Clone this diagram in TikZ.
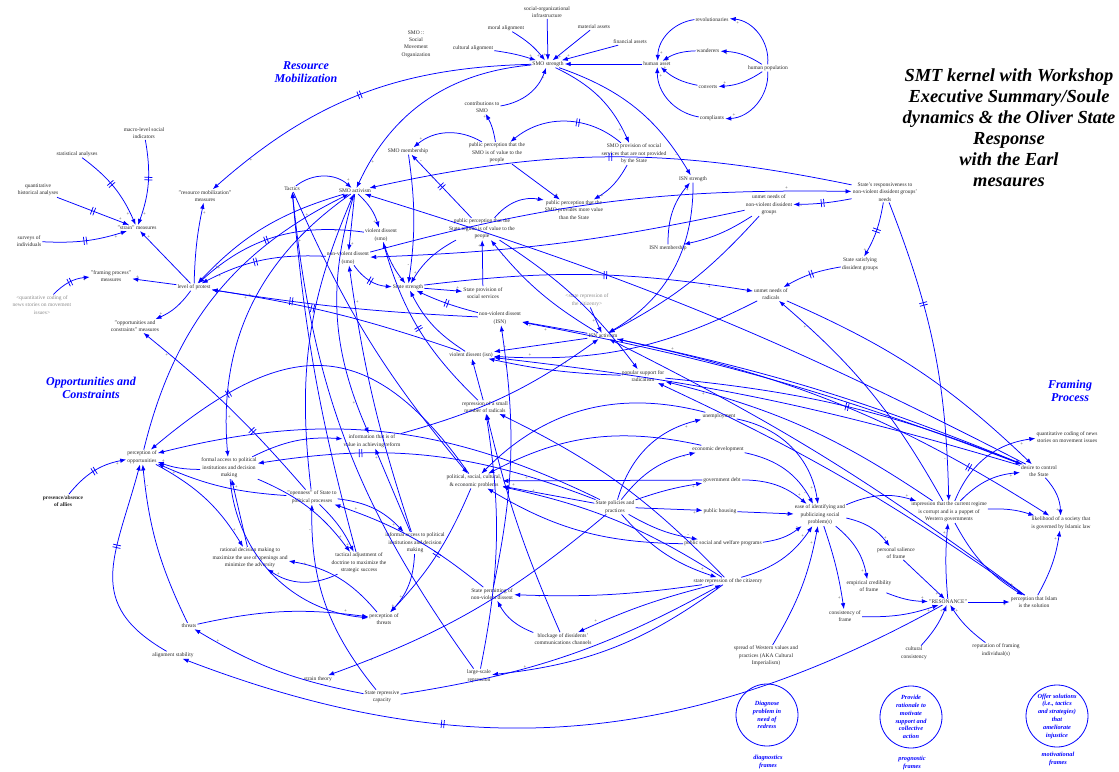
\documentclass[tikz,border=0pt]{standalone}
\usepackage{fontspec}
\setmainfont{Liberation Serif}
\usetikzlibrary{arrows.meta,decorations.markings}

\tikzset{
  var/.style={align=center, inner sep=1pt, text=black!85, font=\fontsize{5.5}{7.4}\selectfont},
  shadow/.style={var, text=black!45},
  title/.style={align=center, font=\fontsize{18.4}{21}\selectfont\bfseries\itshape},
  sector/.style={align=center, text=blue, font=\fontsize{12}{13}\selectfont\bfseries\itshape},
  bubble/.style={circle, draw=blue, line width=0.8pt, minimum size=62pt, inner sep=0pt},
  bubtext/.style={align=center, text=blue, font=\fontsize{6.3}{7.8}\selectfont\bfseries\itshape},
  link/.style={draw=blue, line width=0.75pt, -{Latex[length=6pt,width=4.5pt]}},
  sgn/.style={pos=.88, inner sep=1pt, text=black!70, font=\fontsize{5}{5}\selectfont},
  delay/.style={postaction={decorate, decoration={markings, mark=at position #1 with
    {\draw[-,line width=0.75pt] (-1.3pt,-4pt)--(-1.3pt,4pt) (1.3pt,-4pt)--(1.3pt,4pt);}}}},
  delay/.default=0.5
}

\begin{document}
\begin{tikzpicture}[x=1pt, y=1pt]
\useasboundingbox (0,0) rectangle (1119,-771);

% labels
\node[title] (head) at (1009,-128) {SMT kernel with Workshop\\Executive Summary/Soule\\dynamics \& the Oliver State\\Response\\with the Earl\\mesaures};
\node[sector] (resmob) at (306,-72) {Resource\\Mobilization};
\node[sector] (opplabel) at (91,-388) {Opportunities and\\Constraints};
\node[sector] (framelabel) at (1070,-391) {Framing\\Process};

% resource mobilization
\node[var] (socinfra) at (547,-12) {social-organizational\\infrastructure};
\node[var] (moral) at (506,-28) {moral alignment};
\node[var] (material) at (594,-27) {material assets};
\node[var] (financial) at (630,-42) {financial assets};
\node[var] (cultural) at (473,-48) {cultural alignment};
\node[var] (smodef) at (416,-44) {SMO ::\\Social\\Movement\\Organization};
\node[var] (smostr) at (548,-64) {SMO strength};
\node[var] (humanasset) at (657,-64) {human asset};
\node[var] (revol) at (712,-20) {revolutionaries};
\node[var] (wander) at (708,-51) {wanderers};
\node[var] (convert) at (708,-87) {converts};
\node[var] (compliant) at (712,-118) {compliants};
\node[var] (humanpop) at (768,-68) {human population};
\node[var] (contrib) at (482,-107) {contributions to\\SMO};
\node[var] (smomem) at (408,-151) {SMO membership};
\node[var] (ppsmo) at (497,-153) {public perception that the\\SMO is of value to the\\people};
\node[var] (smoprov) at (634,-154) {SMO provision of social\\services that are not provided\\by the State};
\node[var] (ppmore) at (574,-210) {public perception that the\\SMO provides more value\\than the State};
\node[var] (isnstr) at (693,-179) {ISN strength};
\node[var] (unmetnv) at (769,-205) {unmet needs of\\non-violent dissident\\groups};
\node[var] (isnmem) at (668,-248) {ISN membership};
\node[var] (stateresp) at (885,-192) {State's responsiveness to\\non-violent dissident groups'\\needs};
\node[var] (statesat) at (860,-264) {State satisfying\\dissident groups};

% measures
\node[var] (macro) at (144,-133) {macro-level social\\indicators};
\node[var] (statan) at (77,-154) {statistical analyses};
\node[var] (quanthist) at (38,-190) {quantitative\\historical analyses};
\node[var] (surveys) at (29,-241) {surveys of\\individuals};
\node[var] (strain) at (137,-228) {"strain" measures};
\node[var] (rmmeas) at (205,-196) {"resource mobilization"\\measures};
\node[var] (framemeas) at (111,-276) {"framing process"\\measures};
\node[shadow] (quantcode) at (42,-305) {<quantitative coding of\\news stories on movement\\issues>};
\node[var] (protest) at (194,-287) {level of protest};
\node[var] (ocmeas) at (135,-326) {"opportunities and\\constraints" measures};

% dissent and the State
\node[var] (tactics) at (292,-189) {Tactics};
\node[var] (smoact) at (355,-191) {SMO activism};
\node[var] (vdsmo) at (381,-235) {violent dissent\\(smo)};
\node[var] (nvdsmo) at (348,-258) {non-violent dissent\\(smo)};
\node[var] (ppstate) at (482,-229) {public perception that the\\State regime is of value to the\\people};
\node[var] (statestr) at (408,-287) {State strength};
\node[var] (stateprov) at (483,-293) {State provision of\\social services};
\node[var] (nvdisn) at (500,-318) {non-violent dissent\\(ISN)};
\node[var] (vdisn) at (471,-355) {violent dissent (isn)};
\node[var] (repsmall) at (485,-407) {repression of a small\\number of radicals};
\node[var] (info) at (372,-441) {information that is of\\value in achieving reform};
\node[var] (problems) at (474,-481) {political, social, cultural,\\\& economic problems};
\node[var] (openness) at (312,-497) {"openness" of State to\\political processes};
\node[shadow] (staterepgray) at (587,-300) {<state repression of\\the citizenry>};
\node[var] (unmetrad) at (771,-294) {unmet needs of\\radicals};
\node[var] (isnact) at (603,-336) {ISN activism};
\node[var] (popsupport) at (643,-376) {popular support for\\radicalism};

% opportunities
\node[var] (perceptopp) at (142,-457) {perception of\\opportunities};
\node[var] (formal) at (229,-468) {formal access to political\\institutions and decision\\making};
\node[var,font=\fontsize{5.5}{7.4}\selectfont\bfseries] (allies) at (63,-501) {presence/absence\\of allies};
\node[var] (rational) at (250,-558) {rational decision making to\\maximize the use of openings and\\minimize the adversity};
\node[var] (tactical) at (359,-563) {tactical adjustment of\\doctrine to maximize the\\strategic success};
\node[var] (informal) at (415,-543) {informal access to political\\institutions and decision\\making};
\node[var] (permitting) at (492,-594) {State permitting of\\non-violent dissent};
\node[var] (percthreat) at (384,-619) {perception of\\threats};
\node[var] (blockage) at (563,-639) {blockage of dissidents'\\communications channels};
\node[var] (threats) at (189,-626) {threats};
\node[var] (alignment) at (173,-655) {alignment stability};
\node[var] (straintheory) at (318,-679) {strain theory};
\node[var] (largescale) at (479,-676) {large-scale\\repression};
\node[var] (repcapacity) at (382,-697) {State repressive\\capacity};

% policies and framing
\node[var] (unemploy) at (719,-416) {unemployment};
\node[var] (econdev) at (718,-449) {economic development};
\node[var] (govdebt) at (722,-480) {government debt};
\node[var] (policies) at (615,-507) {State policies and\\practices};
\node[var] (housing) at (720,-511) {public housing};
\node[var] (welfare) at (723,-543) {public social and welfare programs};
\node[var] (staterep) at (728,-581) {state repression of the citizenry};
\node[var] (spread) at (766,-656) {spread of Western values and\\practices (AKA Cultural\\Imperialism)};
\node[var] (ease) at (820,-515) {ease of identifying and\\publicizing social\\problem(s)};
\node[var] (quantnews) at (1067,-437) {quantitative coding of news\\stories on movement issues};
\node[var] (desire) at (1039,-471) {desire to control\\the State};
\node[var] (impression) at (949,-512) {impression that the current regime\\is corrupt and is a puppet of\\Western governments};
\node[var] (likelihood) at (1061,-523) {likelihood of a society that\\is governed by Islamic law};
\node[var] (salience) at (896,-553) {personal salience\\of frame};
\node[var] (empirical) at (869,-586) {empirical credibility\\of frame};
\node[var] (resonance) at (948,-602) {"RESONANCE"};
\node[var] (islamsol) at (1034,-602) {perception that Islam\\is the solution};
\node[var] (consistency) at (845,-616) {consistency of\\frame};
\node[var] (cultcons) at (914,-653) {cultural\\consistency};
\node[var] (reputation) at (996,-650) {reputation of framing\\individual(s)};

% frame bubbles
\node[bubble] (diag) at (767,-715) {};
\node[bubtext] (diagtext) at (diag) {Diagnose\\problem in\\need of\\redress};
\node[bubtext] (diagcap) at (768,-762) {diagnostics\\frames};
\node[bubble] (prog) at (911,-717) {};
\node[bubtext] (progtext) at (prog) {Provide\\rationale to\\motivate\\support and\\collective\\action};
\node[bubtext] (progcap) at (912,-763) {prognostic\\frames};
\node[bubble] (motiv) at (1057,-716) {};
\node[bubtext] (motivtext) at (motiv) {Offer solutions\\(i.e., tactics\\and strategies)\\that\\ameliorate\\injustice};
\node[bubtext] (motivcap) at (1058,-759) {motivational\\frames};

% SMO strength
\draw[link] (socinfra) -- node[sgn,left]{+} (smostr);
\draw[link] (moral) to[bend left=10] node[sgn,left]{+} (smostr);
\draw[link] (cultural) to[bend left=5] node[sgn,above]{+} (smostr);
\draw[link] (material) -- node[sgn,right]{+} (smostr);
\draw[link] (financial) -- node[sgn,above]{+} (smostr);
\draw[link] (humanasset) -- (smostr);
\draw[link] (revol) to[bend right=40] node[sgn,right]{+} (humanasset);
\draw[link] (wander) to[bend right=15] node[sgn,below]{+} (humanasset);
\draw[link] (convert) to[bend left=15] node[sgn,above]{+} (humanasset);
\draw[link] (compliant) to[bend left=40] node[sgn,right]{+} (humanasset);
\draw[link] (humanpop) to[bend right=45] node[sgn,below]{+} (revol);
\draw[link] (humanpop) to[bend right=15] node[sgn,below]{+} (wander);
\draw[link] (humanpop) to[bend left=15] node[sgn,above]{+} (convert);
\draw[link] (humanpop) to[bend left=45] node[sgn,above]{+} (compliant);
\draw[link,delay] (smostr) to[bend right=20] node[sgn,right]{+} (rmmeas);
\draw[link] (contrib) to[bend right=30] node[sgn,below]{+} (smostr);
\draw[link] (smostr) to[bend right=30] node[sgn,right]{+} (smoact);
\draw[link] (smostr) to[bend left=20] node[sgn,left]{+} (smoprov);
\draw[link] (smostr) to[bend left=20] node[sgn,left]{-} (isnstr);
\draw[link] (ppsmo) to[bend right=10] node[sgn,left]{+} (contrib);
\draw[link] (ppsmo) to[bend right=35] node[sgn,above]{+} (smomem);
\draw[link,delay=.4] (smoprov) to[bend right=40] (ppsmo);
\draw[link] (ppsmo) -- node[sgn,right]{+} (ppmore);
\draw[link] (smoprov) to[bend left=15] node[sgn,right]{+} (ppmore);
\draw[link,delay] (ppstate) -- node[sgn,right]{-} (smomem);
\draw[link] (smomem) to[bend left=8] node[sgn,left]{-} (statestr);

% measures
\draw[link,delay=.45] (statan) to[bend left=15] node[sgn,left]{+} (strain);
\draw[link,delay=.45] (macro) to[bend left=15] node[sgn,right]{+} (strain);
\draw[link,delay] (quanthist) -- node[sgn,above]{+} (strain);
\draw[link,delay] (surveys) to[bend right=10] node[sgn,below]{+} (strain);
\draw[link] (protest) -- node[sgn,right]{+} (strain);
\draw[link] (protest) to[bend left=5] node[sgn,right]{+} (rmmeas);
\draw[link] (protest) -- node[sgn,above]{+} (framemeas);
\draw[link] (protest) to[bend left=15] node[sgn,above]{+} (ocmeas);
\draw[link,delay] (quantcode) to[bend left=20] node[sgn,below]{+} (framemeas);
\draw[link,delay=.35] (openness) to[bend right=5] node[sgn,below]{+} (ocmeas);

% dissent
\draw[link] (tactics) to[bend left=40] node[sgn,above right]{+} (smoact);
\draw[link] (smoact) to[bend left=15] node[sgn,left]{+} (vdsmo);
\draw[link] (smoact) -- node[sgn,right]{+} (nvdsmo);
\draw[link] (vdsmo) to[bend right=10] node[sgn,left]{-} (statestr);
\draw[link,delay] (nvdsmo) to[bend right=25] (statestr);
\draw[link,delay] (nvdisn) to[bend left=5] (statestr);
\draw[link] (vdisn) to[bend left=15] (statestr);
\draw[link] (statestr) -- node[sgn,above]{+} (stateprov);
\draw[link] (stateprov) -- node[sgn,left]{+} (ppstate);
\draw[link] (ppstate) to[bend right=15] node[sgn,above]{+} (statestr);
\draw[link] (ppstate) to[bend left=30] node[sgn,below]{-} (ppmore);
\draw[link] (ppstate) to[bend left=10] node[sgn,above]{-} (popsupport);
\draw[link] (isnact) to[bend left=10] node[sgn,below]{-} (ppstate);
\draw[link] (isnmem) to[bend left=20] node[sgn,right]{+} (isnstr);
\draw[link] (isnstr) to[bend left=30] node[sgn,right]{+} (isnact);
\draw[link,delay] (stateresp) to[bend right=12] node[sgn,below]{+} (smoact);
\draw[link] (nvdsmo) to[bend left=8] node[sgn,above]{+} (stateresp);
\draw[link,delay] (stateresp) to[bend left=5] node[sgn,below]{-} (unmetnv);
\draw[link,delay] (stateresp) to[bend left=10] node[sgn,left]{+} (statesat);
\draw[link,delay] (statesat) to[bend right=10] (unmetrad);
\draw[link] (unmetnv) to[bend left=10] (isnmem);
\draw[link] (unmetnv) to[bend left=10] (isnact);
\draw[link] (unmetnv) to[bend left=5] (nvdsmo);
\draw[link,delay=.55] (statestr) to[bend left=8] node[sgn,below]{+} (unmetrad);
\draw[link] (unmetrad) to[bend left=15] node[sgn,above]{+} (vdisn);
\draw[link] (staterepgray) -- node[sgn,pos=.55,left]{+} (isnact);
\draw[link] (isnact) -- node[sgn,below]{+} (nvdisn);
\draw[link] (isnact) -- node[sgn,above]{+} (vdisn);
\draw[link] (popsupport) to[bend left=5] node[sgn,below]{+} (vdisn);
\draw[link] (repsmall) -- node[sgn,left]{-} (vdisn);
\draw[link,delay] (repsmall) to[bend left=15] node[sgn,right]{-} (vdsmo);
\draw[link] (staterep) to[bend right=10] node[sgn,right]{+} (repsmall);
\draw[link] (blockage) to[bend left=5] (repsmall);
\draw[link] (largescale) to[bend right=10] (repsmall);
\draw[link] (smoact) to[bend right=15] node[sgn,right]{+} (protest);
\draw[link,delay=.55] (nvdsmo) to[bend right=15] node[sgn,right]{+} (protest);
\draw[link,delay=.55] (vdsmo) to[bend right=25] node[sgn,right]{+} (protest);
\draw[link,delay=.7] (nvdisn) to[bend left=3] node[sgn,right]{+} (protest);
\draw[link,delay=.6] (vdisn) to[bend right=5] node[sgn,below]{+} (protest);
\draw[link] (smoact) to[bend right=30] node[sgn,right]{+} (formal);
\draw[link] (openness) to[bend left=15] node[sgn,left]{+} (smoact);
\draw[link] (perceptopp) to[bend left=25] node[sgn,left]{+} (smoact);
\draw[link] (smoact) to[bend right=20] node[sgn,left]{+} (info);
\draw[link] (tactics) to[bend right=8] (problems);
\draw[link] (informal) to[bend left=5] node[sgn,right]{+} (nvdsmo);
\draw[link] (info) to[bend right=10] (isnact);

% framing
\draw[link] (desire) to[bend right=5] node[sgn,above]{+} (isnact);
\draw[link] (desire) to[bend right=5] node[sgn,above]{+} (vdisn);
\draw[link] (desire) to[bend right=5] node[sgn,pos=.96,below]{+} (nvdisn);
\draw[link] (desire) to[bend right=5] (smoact);
\draw[link] (impression) to[bend right=10] node[sgn,below]{+} (popsupport);
\draw[link] (impression) to[bend right=10] node[sgn,below]{+} (unmetrad);
\draw[link] (islamsol) to[bend right=5] (isnact);
\draw[link] (islamsol) to[bend right=5] (popsupport);
\draw[link] (unmetrad) to[bend left=10] (desire);
\draw[link,delay=.35] (stateresp) to[bend left=10] node[sgn,left]{-} (impression);
\draw[link,delay=.8] (isnact) to[bend left=10] (likelihood);
\draw[link,delay] (popsupport) to[bend left=8] (desire);
\draw[link] (ease) to[bend left=5] node[sgn,left]{+} (consistency);
\draw[link] (ease) to[bend left=20] node[sgn,above]{+} (salience);
\draw[link] (ease) to[bend left=20] node[sgn,left]{+} (empirical);
\draw[link] (ease) to[bend left=20] node[sgn,above]{+} (impression);
\draw[link] (salience) -- node[sgn,left]{+} (resonance);
\draw[link] (empirical) to[bend right=10] node[sgn,above]{+} (resonance);
\draw[link] (consistency) to[bend right=10] node[sgn,below]{+} (resonance);
\draw[link] (cultcons) to[bend right=10] node[sgn,left]{+} (resonance);
\draw[link] (reputation) to[bend left=10] node[sgn,right]{+} (resonance);
\draw[link] (resonance) -- node[sgn,below]{+} (islamsol);
\draw[link] (resonance) to[bend left=5] node[sgn,left]{+} (impression);
\draw[link] (impression) to[bend right=15] node[sgn,above]{+} (islamsol);
\draw[link] (islamsol) to[bend right=10] node[sgn,left]{+} (likelihood);
\draw[link] (desire) to[bend left=20] node[sgn,left]{+} (likelihood);
\draw[link] (impression) to[bend left=20] node[sgn,below]{+} (desire);
\draw[link] (impression) to[bend left=30] node[sgn,below]{+} (quantnews);
\draw[link] (impression) to[bend left=10] (likelihood);
\draw[link,delay=.66] (resonance) to[bend left=25] (alignment);

% policies
\draw[link] (policies) to[bend left=30] node[sgn,below]{+} (unemploy);
\draw[link] (policies) to[bend left=20] node[sgn,below]{-} (econdev);
\draw[link] (policies) to[bend left=5] node[sgn,below]{+} (govdebt);
\draw[link] (policies) -- node[sgn,below]{+} (housing);
\draw[link] (policies) to[bend right=10] node[sgn,above]{-} (welfare);
\draw[link] (policies) to[bend right=15] node[sgn,above]{+} (staterep);
\draw[link] (unemploy) to[bend left=35] node[sgn,left]{+} (ease);
\draw[link] (econdev) to[bend left=25] node[sgn,left]{-} (ease);
\draw[link] (govdebt) to[bend left=20] node[sgn,above]{+} (ease);
\draw[link] (housing) -- node[sgn,below]{-} (ease);
\draw[link] (welfare) to[bend right=15] node[sgn,above]{-} (ease);
\draw[link] (staterep) to[bend right=20] node[sgn,left]{+} (ease);
\draw[link] (spread) to[bend right=10] node[sgn,left]{+} (ease);
\draw[link] (policies) to[bend left=10] node[sgn,right]{+} (straintheory);
\draw[link] (policies) to[bend right=20] (perceptopp);
\draw[link,delay=.7] (policies) to[bend right=15] (formal);

% repression
\draw[link] (staterep) to[bend left=15] node[sgn,above]{+} (largescale);
\draw[link] (repcapacity) to[bend right=10] (staterep);
\draw[link] (staterep) to[bend right=5] node[sgn,above]{+} (blockage);
\draw[link] (blockage) to[bend left=20] node[sgn,below]{-} (permitting);
\draw[link] (staterep) to[bend left=5] node[sgn,below]{-} (permitting);
\draw[link] (staterep) to[bend right=10] node[sgn,above]{+} (problems);
\draw[link] (policies) -- node[sgn,above]{+} (problems);
\draw[link] (unemploy) to[bend right=30] (problems);
\draw[link] (econdev) to[bend right=20] (problems);
\draw[link] (govdebt) -- node[sgn,above]{+} (problems);
\draw[link] (welfare) to[bend left=15] (problems);

% opportunities and threats
\draw[link,delay=.75] (problems) to[out=125, in=40, looseness=1.4] (perceptopp);
\draw[link] (informal) -- node[sgn,left]{+} (info);
\draw[link] (formal) to[bend left=15] (info);
\draw[link] (formal) to[bend left=10] node[sgn,above]{+} (perceptopp);
\draw[link,delay] (allies) to[bend left=20] node[sgn,below]{+} (perceptopp);
\draw[link,delay=.6] (alignment) to[out=150, in=-105, looseness=1.3] (perceptopp);
\draw[link] (threats) to[bend left=10] node[sgn,right]{-} (perceptopp);
\draw[link] (perceptopp) to[bend left=15] node[sgn,above]{+} (rational);
\draw[link] (rational) -- node[sgn,right]{+} (formal);
\draw[link] (percthreat) to[bend right=20] node[sgn,right]{+} (rational);
\draw[link] (threats) to[bend left=10] node[sgn,above]{+} (percthreat);
\draw[link] (repcapacity) to[bend left=10] node[sgn,right]{+} (threats);
\draw[link] (tactical) to[bend left=5] node[sgn,right]{+} (tactics);
\draw[link] (openness) to[bend left=10] node[sgn,left]{+} (tactical);
\draw[link] (formal) to[bend left=15] node[sgn,above]{+} (tactical);
\draw[link] (tactical) to[bend left=30] node[sgn,right]{+} (rational);
\draw[link] (informal) to[bend left=20] node[sgn,left]{+} (percthreat);
\draw[link,delay] (problems) to[bend left=10] node[sgn,left]{+} (percthreat);
\draw[link] (permitting) to[bend right=10] node[sgn,above]{+} (openness);
\draw[link] (permitting) to[bend right=10] node[sgn,right]{+} (nvdisn);
\draw[link] (openness) to[bend left=10] node[sgn,below]{+} (perceptopp);
\draw[link] (repcapacity) to[bend left=20] node[sgn,left]{-} (openness);
\draw[link] (openness) to[bend left=20] node[sgn,left]{+} (informal);
\draw[link] (formal) to[bend right=40] (percthreat);
\draw[link] (largescale) to[bend left=15] (tactics);
\end{tikzpicture}
\end{document}
